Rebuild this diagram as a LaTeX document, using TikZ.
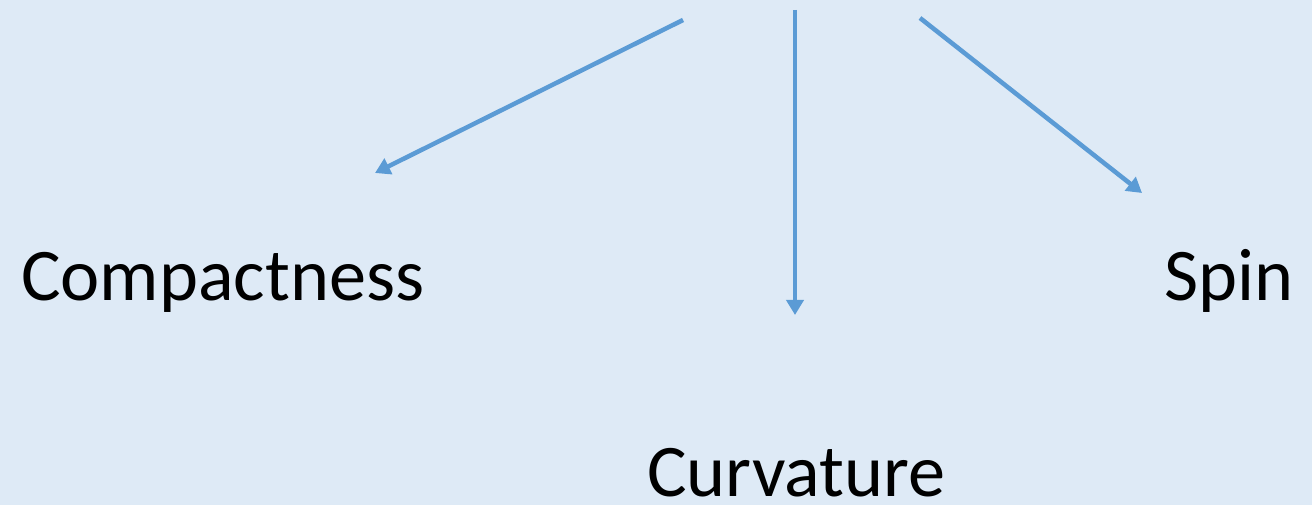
\documentclass[tikz,border=0pt]{standalone}
\usepackage{fontspec}
\setmainfont{Carlito}
\usetikzlibrary{arrows.meta}
\definecolor{bgblue}{HTML}{DEEAF6}
\definecolor{arrblue}{HTML}{5B9BD5}
\begin{document}
\begin{tikzpicture}[x=0.75pt,y=-0.75pt,
  lbl/.style={anchor=base west,inner sep=0pt,font=\fontsize{55.7}{60}\selectfont,text=black},
  conn/.style={draw=arrblue,line width=3.4pt,-{Triangle[width=12.75pt,length=11.25pt]}}]
\fill[bgblue] (0,0) rectangle (1312,505);
\useasboundingbox (0,0) rectangle (1312,505);
\node[lbl] (compact) at (21,301) {Compactness};
\node[lbl] (curv) at (647,496) {Curvature};
\node[lbl] (spin) at (1164,301) {Spin};
\coordinate (s1) at (683,20);
\coordinate (e1) at (375,173);
\coordinate (s2) at (795,10);
\coordinate (e2) at (795,315);
\coordinate (s3) at (920,18);
\coordinate (e3) at (1142,193);
\draw[conn] (s1) -- (e1);
\draw[conn] (s2) -- (e2);
\draw[conn] (s3) -- (e3);
\end{tikzpicture}
\end{document}
